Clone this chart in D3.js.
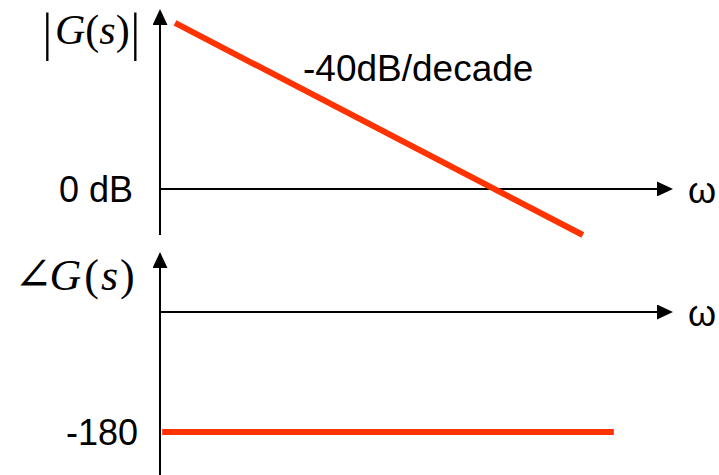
<!DOCTYPE html>
<html>
<head>
<meta charset="utf-8">
<script src="https://cdn.jsdelivr.net/npm/d3@7"></script>
<style>
  html, body { margin: 0; padding: 0; background: #fff; }
  svg { display: block; }
  .sans { font-family: "Liberation Sans", Arial, Helvetica, sans-serif; fill: #000; }
  .serif { font-family: "Liberation Serif", "Times New Roman", Times, serif; fill: #000; }
</style>
</head>
<body>
<svg id="canvas"></svg>
<script>
"use strict";

// asymptote of the magnitude plot (log frequency, dB)
const magOmega = [0.0123, 3.38];
const magDb = [76.4, -21.2];

// phase plot
const phaseOmega = [0.0103, 5.18];
const phaseDeg = [-180, -180];

const magTicks = [0];
const magTickLabels = ["0 dB"];
const phaseTicks = [-180];
const phaseTickLabels = ["-180"];

const slopeLabel = "-40dB/decade";
const axisLabel = "ω";

const width = 719;
const height = 475;
const red = "#ff3300";

const canvas = d3.select("#canvas");
canvas.attr("width", width).attr("height", height);

const xScale = d3.scaleLog().domain([0.01, 11.7]).range([160, 673]);
const yMag = d3.scaleLinear().domain([-21.2, 82.8]).range([235, 9]);
const yPhase = d3.scaleLinear().domain([-244.5, 90]).range([475, 252]);

const line = d3
  .line()
  .x((d) => d[0])
  .y((d) => d[1]);

// arrow head
canvas
  .append("defs")
  .append("marker")
  .attr("id", "arrow")
  .attr("markerUnits", "userSpaceOnUse")
  .attr("viewBox", "0 0 16 15")
  .attr("markerWidth", 16)
  .attr("markerHeight", 15)
  .attr("refX", 8)
  .attr("refY", 7.5)
  .attr("orient", "auto")
  .append("path")
  .attr("d", "M0,0L16,7.5L0,15Z")
  .attr("fill", "#000");

const drawAxes = () => {
  const x0 = xScale.range()[0];
  const x1 = xScale.range()[1];
  const axes = [
    [[x0, yMag.range()[0]], [x0, yMag.range()[1] + 8]],
    [[x0, yMag(0)], [x1 - 8, yMag(0)]],
    [[x0, yPhase.range()[0]], [x0, yPhase.range()[1] + 8]],
    [[x0, yPhase(0)], [x1 - 8, yPhase(0)]],
  ];
  canvas
    .append("g")
    .selectAll("path")
    .data(axes)
    .enter()
    .append("path")
    .attr("d", (d) => line(d))
    .attr("stroke", "#000")
    .attr("stroke-width", 2)
    .attr("fill", "none")
    .attr("marker-end", "url(#arrow)");

  const magAxis = d3
    .axisLeft(yMag)
    .tickValues(magTicks)
    .tickSize(0)
    .tickPadding(27)
    .tickFormat((d, i) => magTickLabels[i]);
  const phaseAxis = d3
    .axisLeft(yPhase)
    .tickValues(phaseTicks)
    .tickSize(0)
    .tickPadding(22)
    .tickFormat((d, i) => phaseTickLabels[i]);

  [magAxis, phaseAxis].forEach((ax) => {
    const g = canvas
      .append("g")
      .attr("transform", `translate(${x0},0)`)
      .call(ax);
    g.select(".domain").remove();
    g.selectAll("text")
      .attr("class", "sans")
      .attr("font-size", 36)
      .attr("font-family", null)
      .attr("dy", "0.36em");
  });

  canvas
    .selectAll(".omega")
    .data([yMag(0), yPhase(0)])
    .enter()
    .append("text")
    .attr("class", "sans omega")
    .attr("x", 688)
    .attr("y", (d) => d + 14)
    .attr("font-size", 36)
    .text(axisLabel);
};

const drawCurves = () => {
  canvas
    .append("path")
    .attr("d", line(magOmega.map((w, i) => [xScale(w), yMag(magDb[i])])))
    .attr("stroke", red)
    .attr("stroke-width", 6)
    .attr("fill", "none");

  canvas
    .append("path")
    .attr("d", line(phaseOmega.map((w, i) => [xScale(w), yPhase(phaseDeg[i])])))
    .attr("stroke", red)
    .attr("stroke-width", 6)
    .attr("fill", "none");

  canvas
    .append("text")
    .attr("class", "sans")
    .attr("x", 303)
    .attr("y", 81)
    .attr("font-size", 37)
    .text(slopeLabel);
};

const drawTitles = () => {
  // |G(s)|
  canvas.append("text").attr("class", "serif").attr("x", 42.5).attr("y", 48)
    .attr("font-size", 48).attr("transform", "translate(0,-2) scale(1,1.08)")
    .text("|");
  canvas.append("text").attr("class", "serif").attr("x", 130.5).attr("y", 48)
    .attr("font-size", 48).attr("transform", "translate(0,-2) scale(1,1.08)")
    .text("|");
  const mag = canvas.append("text").attr("class", "serif")
    .attr("x", 55).attr("y", 44).attr("font-size", 42);
  mag.append("tspan").attr("font-style", "italic").text("G");
  mag.append("tspan").text("(");
  mag.append("tspan").attr("font-style", "italic").text("s");
  mag.append("tspan").text(")");

  // ∠G(s)
  const ph = canvas.append("text").attr("class", "serif")
    .attr("x", 14).attr("y", 290).attr("font-size", 44);
  ph.append("tspan").attr("font-family", "'DejaVu Serif', serif")
    .attr("font-size", 46).text("∠");
  ph.append("tspan").attr("dx", -3).attr("font-style", "italic").text("G");
  ph.append("tspan").attr("dx", 3).text("(");
  ph.append("tspan").attr("dx", 2).attr("font-style", "italic").text("s");
  ph.append("tspan").attr("dx", 2).text(")");
};

drawAxes();
drawCurves();
drawTitles();
</script>
</body>
</html>
